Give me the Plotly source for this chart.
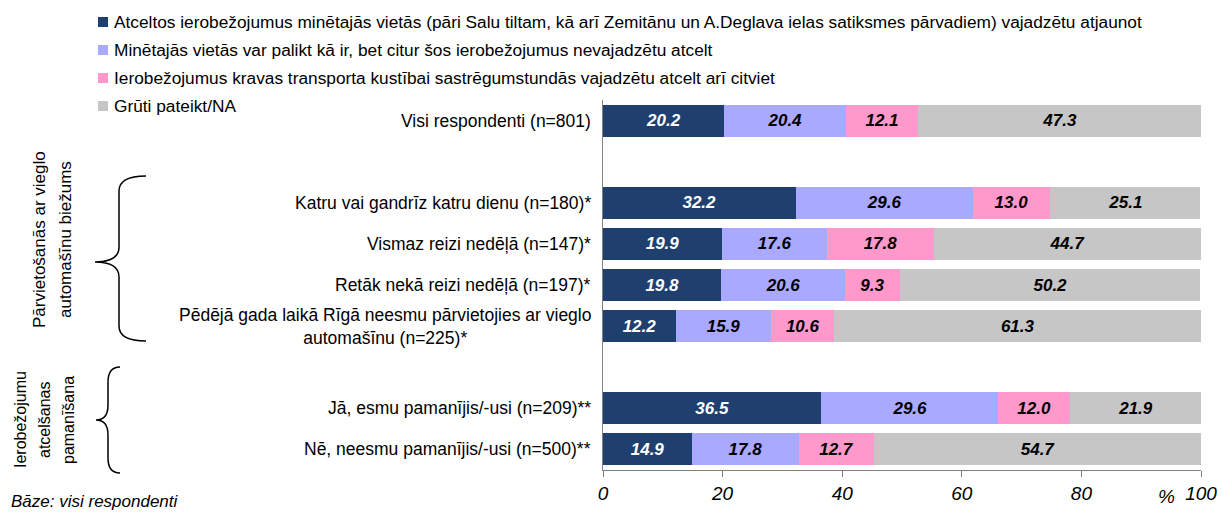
import plotly.graph_objects as go

categories = ["Visi respondenti (n=801)", "gap1",
              "Katru vai gandrīz katru dienu (n=180)*",
              "Vismaz reizi nedēļā (n=147)*",
              "Retāk nekā reizi nedēļā (n=197)*",
              "Pēdējā gada laikā Rīgā neesmu pārvietojies ar vieglo<br>automašīnu (n=225)*",
              "gap2",
              "Jā, esmu pamanījis/-usi (n=209)**",
              "Nē, neesmu pamanījis/-usi (n=500)**"]

series_names = [
    "Atceltos ierobežojumus minētajās vietās (pāri Salu tiltam, kā arī Zemitānu un A.Deglava ielas satiksmes pārvadiem) vajadzētu atjaunot",
    "Minētajās vietās var palikt kā ir, bet citur šos ierobežojumus nevajadzētu atcelt",
    "Ierobežojumus kravas transporta kustībai sastrēgumstundās vajadzētu atcelt arī citviet",
    "Grūti pateikt/NA",
]
s1 = [20.2, None, 32.2, 19.9, 19.8, 12.2, None, 36.5, 14.9]
s2 = [20.4, None, 29.6, 17.6, 20.6, 15.9, None, 29.6, 17.8]
s3 = [12.1, None, 13.0, 17.8, 9.3, 10.6, None, 12.0, 12.7]
s4 = [47.3, None, 25.1, 44.7, 50.2, 61.3, None, 21.9, 54.7]
tick_vals = [0, 20, 40, 60, 80, 100]

colors = ["#1F406F", "#A9A9FF", "#FF99CC", "#C6C6C6"]
text_colors = ["white", "black", "black", "black"]

FONT = "Liberation Sans"

fig = go.Figure()
for name, vals, c, tc in zip(series_names, [s1, s2, s3, s4], colors, text_colors):
    fig.add_trace(go.Bar(
        y=categories, x=vals, name=name, orientation="h",
        marker=dict(color=c, line=dict(width=0)),
        width=0.78,
        text=[f"{v:.1f}" if v is not None else "" for v in vals],
        textposition="inside", insidetextanchor="middle",
        textfont=dict(color=tc, size=17, family=FONT, weight="bold", style="italic"),
        showlegend=False,
    ))

L, R, T, B = 603, 21, 100, 42
W, H = 1222, 512
pw, ph = W - L - R, H - T - B

def px(x):
    return (x - L) / pw

def py(y):
    return (H - B - y) / ph

annotations = []
shapes = []
# legend (manual, to match the small square swatches)
for i, (name, c) in enumerate(zip(series_names, colors)):
    yc = 22 + 28 * i
    shapes.append(dict(type="rect", xref="paper", yref="paper",
                       x0=px(98), x1=px(108), y0=py(yc - 5), y1=py(yc + 5),
                       fillcolor=c, line=dict(width=0)))
    annotations.append(dict(x=px(112), y=py(yc), xref="paper", yref="paper", text=name,
                            showarrow=False, xanchor="left", yanchor="middle",
                            font=dict(size=17.3, family=FONT, color="black")))

for cat in categories:
    if cat.startswith("gap"):
        continue
    annotations.append(dict(x=px(593), y=cat, xref="paper", yref="y", text=cat,
                            showarrow=False, xanchor="right", yanchor="middle", align="center",
                            font=dict(size=17.5, family=FONT, color="black")))

rot1 = dict(size=17, family=FONT, color="black")
rot2 = dict(size=16, family=FONT, color="black")

def rot(xp, yp, text, f):
    return dict(x=px(xp), y=py(yp), xref="paper", yref="paper", text=text,
                textangle=-90, showarrow=False, xanchor="center", yanchor="middle", font=f)

annotations += [
    rot(39, 240, "Pārvietošanās ar vieglo", rot1),
    rot(65, 240, "automašīnu biežums", rot1),
    rot(20, 420, "Ierobežojumu", rot2),
    rot(44, 420, "atcelšanas", rot2),
    rot(68, 420, "pamanīšana", rot2),
    dict(x=px(9), y=py(501), xref="paper", yref="paper", text="Bāze: visi respondenti",
         showarrow=False, xanchor="left", yanchor="middle",
         font=dict(size=17, family=FONT, color="black", style="italic")),
    dict(x=px(1166), y=py(496), xref="paper", yref="paper", text="%",
         showarrow=False, xanchor="center", yanchor="middle",
         font=dict(size=19, family=FONT, color="black", style="italic")),
]

def brace(x_tip, x_line, x_end, y0, ym, y1):
    r = 10
    p = (f"M {px(x_end)} {py(y0)} "
         f"Q {px(x_line)} {py(y0)} {px(x_line)} {py(y0 + r*1.5)} "
         f"L {px(x_line)} {py(ym - r*1.5)} "
         f"Q {px(x_line)} {py(ym)} {px(x_tip)} {py(ym)} "
         f"Q {px(x_line)} {py(ym)} {px(x_line)} {py(ym + r*1.5)} "
         f"L {px(x_line)} {py(y1 - r*1.5)} "
         f"Q {px(x_line)} {py(y1)} {px(x_end)} {py(y1)}")
    return dict(type="path", path=p, xref="paper", yref="paper",
                line=dict(color="black", width=1.5))

shapes += [
    brace(95, 119, 146, 176, 262, 341),
    brace(96, 108, 120, 367, 420, 473),
]

fig.update_layout(
    barmode="stack",
    width=W, height=H,
    margin=dict(l=L, r=R, t=T, b=B, pad=0, autoexpand=False),
    paper_bgcolor="white", plot_bgcolor="white",
    bargap=0.22,
    font=dict(family=FONT, size=14, color="black"),
    xaxis=dict(range=[0, 100], tickvals=tick_vals, ticktext=[str(v) for v in tick_vals],
               showgrid=False, zeroline=False, showline=True, linecolor="#808080", linewidth=1,
               ticks="outside", ticklen=6, tickcolor="#808080",
               tickfont=dict(size=19, family=FONT, style="italic", color="black")),
    yaxis=dict(categoryorder="array", categoryarray=categories, autorange="reversed",
               showticklabels=False, showgrid=False, zeroline=False,
               showline=True, linecolor="#808080", linewidth=1, ticks=""),
    annotations=annotations,
    shapes=shapes,
    showlegend=False,
)

fig.write_html("out.html", config={"displayModeBar": False},
               post_script="document.body.style.margin='0';document.body.style.overflow='hidden';")
